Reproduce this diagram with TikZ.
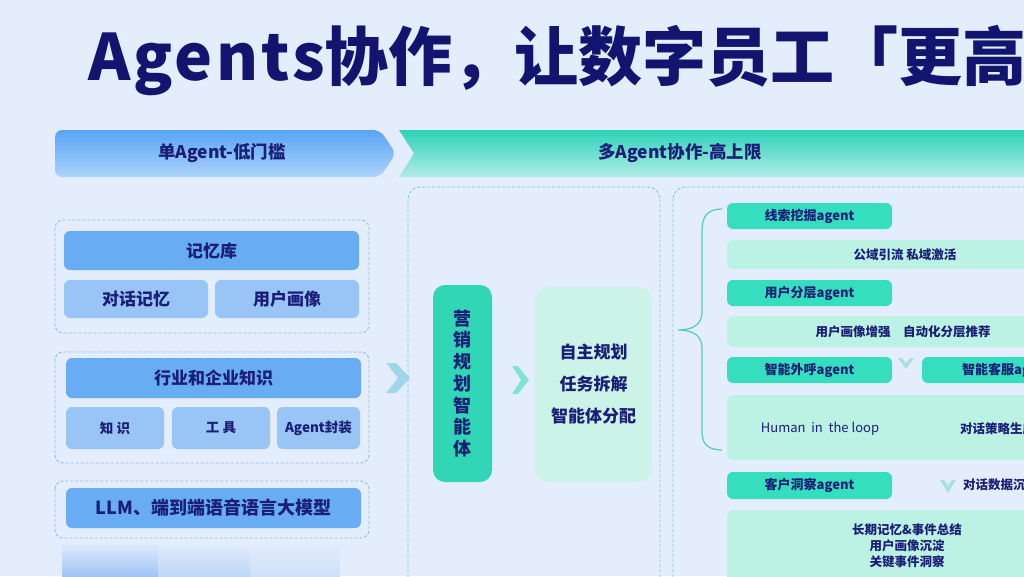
\documentclass[tikz,border=0pt]{standalone}
\usepackage{fontspec}
\setmainfont{Noto Sans CJK SC}
\definecolor{bg}{RGB}{227,237,251}
\definecolor{navy}{RGB}{26,30,118}
\definecolor{titlenavy}{RGB}{18,20,112}
\definecolor{bluemid}{RGB}{104,173,244}
\definecolor{bluelight}{RGB}{152,196,246}
\definecolor{grpline}{RGB}{150,188,222}
\definecolor{tealline}{RGB}{118,210,198}
\definecolor{tealdark}{RGB}{52,222,190}
\definecolor{tealplan}{RGB}{48,214,182}
\definecolor{mint}{RGB}{188,242,228}
\definecolor{mintsoft}{RGB}{203,243,232}
\definecolor{bbtop}{RGB}{88,164,245}
\definecolor{bbbot}{RGB}{172,211,251}
\definecolor{tbtop}{RGB}{44,210,184}
\definecolor{tbbot}{RGB}{178,236,230}
\definecolor{bracec}{RGB}{80,204,184}
\definecolor{chevA}{RGB}{160,214,236}
\definecolor{chevB}{RGB}{130,228,208}
\definecolor{chevC}{RGB}{170,224,222}
\definecolor{glowA}{RGB}{160,196,246}
\definecolor{glowB}{RGB}{190,214,248}
\definecolor{glowC}{RGB}{206,224,250}
\begin{document}
\begin{tikzpicture}[x=1pt,y=-1pt,
  every node/.style={inner sep=0pt, outer sep=0pt, text=navy},
  grp/.style={draw=grpline, dash pattern=on 3pt off 2pt, rounded corners=8pt, line width=0.9pt},
  tgrp/.style={draw=tealline, dash pattern=on 3pt off 2pt, rounded corners=12pt, line width=0.9pt},
  bbox/.style={fill=bluemid, rounded corners=6pt, font=\fontsize{17}{19}\selectfont\bfseries},
  lbox/.style={fill=bluelight, rounded corners=6pt, font=\fontsize{17}{19}\selectfont\bfseries},
  sbox/.style={fill=bluelight, rounded corners=6pt, font=\fontsize{13.5}{15}\selectfont\bfseries},
  tbox/.style={fill=tealdark, rounded corners=6pt, minimum width=165pt, minimum height=26pt, font=\fontsize{13}{15}\selectfont\bfseries},
  mbox/.style={fill=mint, rounded corners=7pt, font=\fontsize{12.5}{15}\selectfont\bfseries},
  rtxt/.style={font=\fontsize{12.5}{15}\selectfont\bfseries},
  hdr/.style={font=\fontsize{17.5}{20}\selectfont\bfseries},
  ttl/.style={anchor=base west, font=\fontsize{64}{72}\selectfont\bfseries, text=titlenavy}
]
\useasboundingbox (0,0) rectangle (1024,576);
\clip (0,0) rectangle (1024,576);
\fill[bg] (0,0) rectangle (1024,576);
% soft glow bottom left
\fill[top color=bg, bottom color=glowA] (62,542) rectangle (158,576);
\fill[top color=bg, bottom color=glowB] (158,542) rectangle (250,576);
\fill[top color=bg, bottom color=glowC] (250,542) rectangle (340,576);

% title
\node[ttl] (title1) at (88,80) {{\addfontfeatures{LetterSpace=5}Agents}协作，};
\node[ttl] (title2) at (514,80) {让数字员工「更高};

% banners
\path[top color=bbtop, bottom color=bbbot, rounded corners=7pt] (55,130) -- (380,130) -- (396,153.5) -- (380,177) -- (55,177) -- cycle;
\node[hdr] (h1) at (222,153.5) {单Agent-低门槛};
\path[top color=tbtop, bottom color=tbbot] (399,130) -- (1040,130) -- (1040,177) -- (399,177) -- (414,153.5) -- cycle;
\node[hdr] (h2) at (680,153.5) {多Agent协作-高上限};

% left groups
\draw[grp] (55,220) rectangle (369,333);
\node[bbox, minimum width=295pt, minimum height=39pt] (mem) at (211.5,250.5) {记忆库};
\node[lbox, minimum width=144pt, minimum height=38pt] (dlg) at (136,299) {对话记忆};
\node[lbox, minimum width=144pt, minimum height=38pt] (prof) at (287,299) {用户画像};

\draw[grp] (55,352) rectangle (369,463);
\node[bbox, minimum width=295pt, minimum height=40pt] (ind) at (213.5,378) {行业和企业知识};
\node[sbox, minimum width=98pt, minimum height=42pt] (kn) at (115,428) {知\ 识};
\node[sbox, minimum width=98pt, minimum height=42pt] (tool) at (221,428) {工\ 具};
\node[sbox, minimum width=83pt, minimum height=42pt] (pack) at (318.5,428) {Agent封装};

\draw[grp] (55,481) rectangle (369,538);
\node[bbox, minimum width=295pt, minimum height=40pt, font=\fontsize{18}{20}\selectfont\bfseries] (llm) at (213.5,508) {LLM、端到端语音语言大模型};

% chevron left -> middle
\fill[chevA] (386,363) -- (396,363) -- (410,378) -- (396,393) -- (386,393) -- (398,378) -- cycle;

% middle panel
\draw[tgrp] (408,187) rectangle (660,640);
\node[fill=tealplan, rounded corners=12pt, minimum width=59pt, minimum height=197pt, align=center, font=\fontsize{18}{21.7}\selectfont\bfseries] (plan) at (462.5,383.5) {营\\销\\规\\划\\智\\能\\体};
\fill[chevB] (512,366) -- (518,366) -- (529,380) -- (518,394) -- (512,394) -- (521,380) -- cycle;
\node[fill=mintsoft, rounded corners=14pt, minimum width=117pt, minimum height=195pt, align=center, font=\fontsize{17}{32}\selectfont\bfseries] (tasks) at (593.5,384.5) {自主规划\\任务拆解\\智能体分配};

% right panel
\draw[tgrp] (673,187) rectangle (1060,640);
\draw[bracec, line width=1.2pt] (722,209) .. controls (708,209) and (702,216) .. (702,230) -- (702,312) .. controls (702,325) and (692,330) .. (678,330) .. controls (692,330) and (702,335) .. (702,348) -- (702,432) .. controls (702,444) and (708,450) .. (722,450);

\node[tbox] (a1) at (809.5,216) {线索挖掘agent};
\node[mbox, minimum width=356pt, minimum height=29pt] (b1) at (905,254.5) {公域引流 私域激活};
\node[tbox] (a2) at (809.5,293) {用户分层agent};
\node[mbox, minimum width=352pt, minimum height=31pt] (b2) at (903,331.5) {用户画像增强\quad 自动化分层推荐};
\node[tbox] (a3) at (809.5,370) {智能外呼agent};
\fill[chevC] (898,358) -- (902,358) -- (906,363) -- (910,358) -- (914,358) -- (906,369) -- cycle;
\node[tbox, minimum width=170pt] (a4) at (1007,370) {智能客服agent};
\node[mbox, minimum width=340pt, minimum height=65pt] (b3) at (897,427.5) {};
\node[font=\fontsize{13}{15}\selectfont] (h3a) at (820,429) {Human\ \ in\ \ the loop};
\node[rtxt, anchor=west] (h3b) at (960,429) {对话策略生成};
\node[tbox, minimum height=27pt] (a5) at (809.5,485.5) {客户洞察agent};
\fill[chevC] (940,480) -- (944,480) -- (948,486) -- (952,480) -- (956,480) -- (948,493) -- cycle;
\node[rtxt, anchor=west] (d5) at (963,485) {对话数据沉淀};
\node[mbox, minimum width=360pt, minimum height=100pt] (b4) at (907,560) {};
\node[align=center, font=\fontsize{12.5}{16}\selectfont\bfseries] (b4t) at (907,546) {长期记忆\&事件总结\\用户画像沉淀\\关键事件洞察};
\end{tikzpicture}
\end{document}
